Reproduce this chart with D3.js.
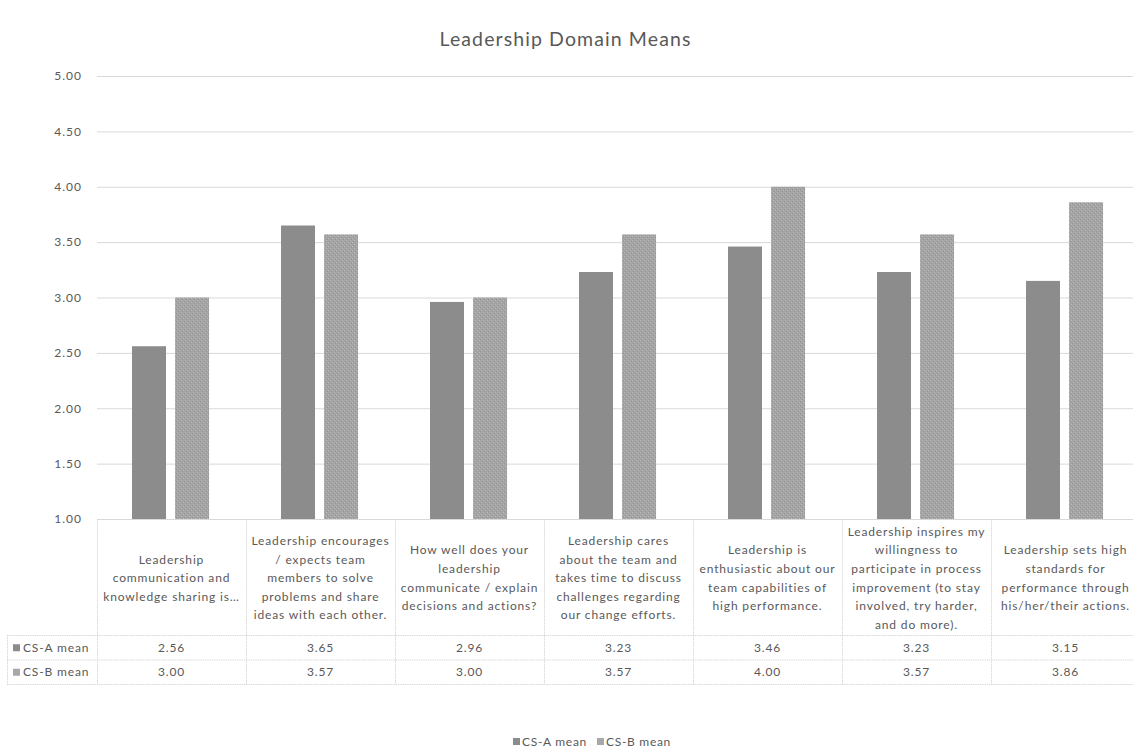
<!DOCTYPE html>
<html>
<head>
<meta charset="utf-8">
<script src="https://cdn.jsdelivr.net/npm/d3@7"></script>
<style>
  html, body { margin: 0; padding: 0; background: #fff; }
  svg text { font-family: Lato, "Open Sans", sans-serif; fill: #595959; }
</style>
</head>
<body>
<svg id="chart" width="1133" height="750"></svg>
<script>
// Question labels, one array of wrapped lines per category
const categories = [
  ["Leadership", "communication and", "knowledge sharing is…"],
  ["Leadership encourages", "/ expects team", "members to solve", "problems and share", "ideas with each other."],
  ["How well does your", "leadership", "communicate / explain", "decisions and actions?"],
  ["Leadership cares", "about the team and", "takes time to discuss", "challenges regarding", "our change efforts."],
  ["Leadership is", "enthusiastic about our", "team capabilities of", "high performance."],
  ["Leadership inspires my", "willingness to", "participate in process", "improvement (to stay", "involved, try harder,", "and do more)."],
  ["Leadership sets high", "standards for", "performance through", "his/her/their actions."]
];
const seriesNames = ["CS-A mean", "CS-B mean"];
const csA = [2.56, 3.65, 2.96, 3.23, 3.46, 3.23, 3.15];
const csB = [3.00, 3.57, 3.00, 3.57, 4.00, 3.57, 3.86];
const yTicks = [1.0, 1.5, 2.0, 2.5, 3.0, 3.5, 4.0, 4.5, 5.0];

const svg = d3.select("#chart");
const W = 1133, H = 750;
const plot = { left: 97, right: 1140, top: 76, bottom: 519 };
const headerBottom = 635, rowH = 24.5;
const tableLeft = 7;
const gridColor = "#d9d9d9";

// Fill for the second series: light gray with a fine texture
const defs = svg.append("defs");
const pat = defs.append("pattern")
  .attr("id", "texB").attr("width", 4).attr("height", 4)
  .attr("patternUnits", "userSpaceOnUse");
pat.append("rect").attr("width", 4).attr("height", 4).attr("fill", "#a4a4a4");
pat.append("rect").attr("x", 0).attr("y", 0).attr("width", 1).attr("height", 1).attr("fill", "#bcbcbc");
pat.append("rect").attr("x", 2).attr("y", 2).attr("width", 1).attr("height", 1).attr("fill", "#bcbcbc");
pat.append("rect").attr("x", 1).attr("y", 3).attr("width", 1).attr("height", 1).attr("fill", "#959595");
pat.append("rect").attr("x", 3).attr("y", 1).attr("width", 1).attr("height", 1).attr("fill", "#959595");

const colors = { "CS-A mean": "#8c8c8c", "CS-B mean": "url(#texB)" };
const swatch = { "CS-A mean": "#8c8c8c", "CS-B mean": "#a8a8a8" };

const x0 = d3.scaleBand().domain(d3.range(categories.length)).range([plot.left, plot.right]).paddingInner(0).paddingOuter(0);
const cw = x0.bandwidth();
const x1 = d3.scaleBand().domain(seriesNames).range([cw * 0.235, cw * 0.752]).paddingInner(0.21);
const y = d3.scaleLinear().domain([1, 5]).range([plot.bottom, plot.top]);

const bodyFont = "12px", bodySpacing = "0.85px";

// Title
svg.append("text")
  .attr("x", W / 2 - 1).attr("y", 46)
  .attr("text-anchor", "middle")
  .style("font-size", "19.5px")
  .style("letter-spacing", "1.1px")
  .text("Leadership Domain Means");

// Gridlines and value axis
const yAxis = d3.axisLeft(y).tickValues(yTicks).tickFormat(d3.format(".2f"))
  .tickSize(-(plot.right - plot.left)).tickPadding(15);
const gY = svg.append("g").attr("transform", `translate(${plot.left},0)`).call(yAxis);
gY.select(".domain").remove();
gY.selectAll(".tick line").attr("stroke", gridColor).attr("stroke-width", 1);
gY.selectAll(".tick text").style("font-size", "12px").style("letter-spacing", "1px").attr("fill", "#595959");

// Bars
const rows = seriesNames.map((s, i) => ({ name: s, values: i === 0 ? csA : csB }));
const groups = svg.append("g").selectAll("g")
  .data(categories.map((c, i) => i))
  .join("g")
  .attr("transform", i => `translate(${x0(i)},0)`);
groups.selectAll("rect")
  .data(i => rows.map(r => ({ name: r.name, value: r.values[i] })))
  .join("rect")
  .attr("x", d => x1(d.name))
  .attr("width", x1.bandwidth())
  .attr("y", d => y(d.value))
  .attr("height", d => y(1) - y(d.value))
  .attr("fill", d => colors[d.name]);

// Data table below the plot
const table = svg.append("g").attr("stroke", gridColor).attr("stroke-width", 1).attr("stroke-dasharray", "1.5,0.8");
const tableBottom = headerBottom + rowH * 2;
// horizontal rules
[headerBottom, headerBottom + rowH, tableBottom].forEach(yy => {
  table.append("line").attr("x1", tableLeft).attr("x2", plot.right).attr("y1", yy + 0.5).attr("y2", yy + 0.5);
});
// vertical rules
table.append("line").attr("x1", tableLeft + 0.5).attr("x2", tableLeft + 0.5).attr("y1", headerBottom).attr("y2", tableBottom);
d3.range(categories.length + 1).forEach(i => {
  const xx = i < categories.length ? x0(i) : plot.right;
  table.append("line").attr("x1", xx + 0.5).attr("x2", xx + 0.5).attr("y1", plot.bottom).attr("y2", tableBottom);
});

// category labels inside the header cells
const lineH = 18.6;
const headerMid = (plot.bottom + headerBottom) / 2 + 1;
categories.forEach((lines, i) => {
  const cx = x0(i) + cw / 2;
  const t = svg.append("text").attr("text-anchor", "middle")
    .style("font-size", bodyFont).style("letter-spacing", bodySpacing);
  lines.forEach((ln, k) => {
    t.append("tspan")
      .attr("x", cx)
      .attr("y", headerMid + (k - (lines.length - 1) / 2) * lineH)
      .attr("dy", "0.35em")
      .text(ln);
  });
});

// series rows: legend key, name, values
rows.forEach((r, ri) => {
  const cy = headerBottom + rowH * ri + rowH / 2 + 0.5;
  svg.append("rect").attr("x", 13).attr("y", cy - 3.5).attr("width", 7).attr("height", 7).attr("fill", swatch[r.name]);
  svg.append("text").attr("x", 23).attr("y", cy).attr("dy", "0.35em")
    .style("font-size", bodyFont).style("letter-spacing", bodySpacing).text(r.name);
  r.values.forEach((v, i) => {
    svg.append("text")
      .attr("x", x0(i) + cw / 2).attr("y", cy).attr("dy", "0.35em")
      .attr("text-anchor", "middle")
      .style("font-size", bodyFont).style("letter-spacing", bodySpacing)
      .text(d3.format(".2f")(v));
  });
});

// Legend
const legend = svg.append("g").attr("transform", "translate(0,742)");
const legendItems = [{ name: "CS-A mean", x: 513 }, { name: "CS-B mean", x: 597 }];
legendItems.forEach(it => {
  legend.append("rect").attr("x", it.x).attr("y", -4).attr("width", 7).attr("height", 7).attr("fill", swatch[it.name]);
  legend.append("text").attr("x", it.x + 9).attr("y", 0).attr("dy", "0.32em")
    .style("font-size", bodyFont).style("letter-spacing", "0.7px").text(it.name);
});
</script>
</body>
</html>
